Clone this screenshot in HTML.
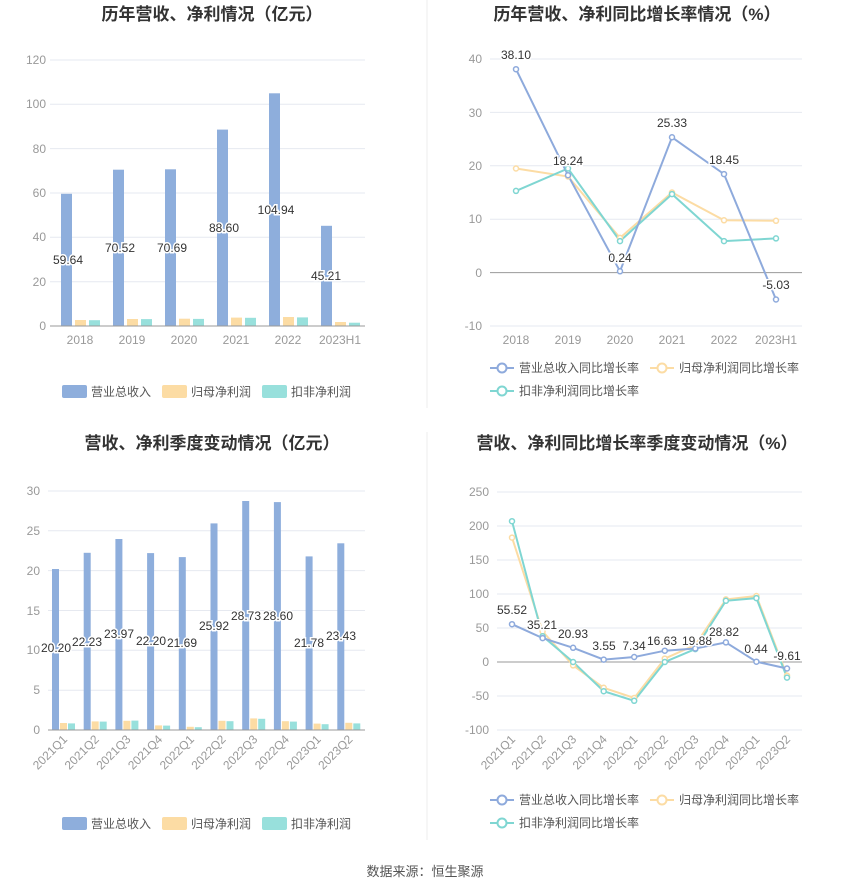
<!DOCTYPE html>
<html><head><meta charset="utf-8"><style>
body{margin:0;background:#fff;}
svg{display:block;font-family:"Liberation Sans","Noto Sans CJK SC",sans-serif;}
.t{font-size:17px;font-weight:bold;fill:#333;text-anchor:middle;}
.ax{font-size:12px;fill:#999;}
.lb{font-size:12px;fill:#333;text-anchor:middle;stroke:#fff;stroke-width:3px;paint-order:stroke;}
.g{stroke:#e6e9f0;stroke-width:1;}
.lg{font-size:12px;fill:#555;}
</style></head><body>
<svg width="850" height="891" viewBox="0 0 850 891">
<line x1="427" y1="0" x2="427" y2="408" stroke="#eee"/>
<line x1="427" y1="432" x2="427" y2="840" stroke="#eee"/>
<!-- Titles -->
<text class="t" x="212" y="20">历年营收、净利情况（亿元）</text>
<text class="t" x="637" y="20">历年营收、净利同比增长率情况（%）</text>
<text class="t" x="212" y="449">营收、净利季度变动情况（亿元）</text>
<text class="t" x="637" y="449">营收、净利同比增长率季度变动情况（%）</text>

<!-- Chart1 -->
<g>
<line class="g" x1="50" x2="365" y1="60" y2="60"/><line class="g" x1="50" x2="365" y1="104.3" y2="104.3"/><line class="g" x1="50" x2="365" y1="148.6" y2="148.6"/><line class="g" x1="50" x2="365" y1="193" y2="193"/><line class="g" x1="50" x2="365" y1="237.3" y2="237.3"/><line class="g" x1="50" x2="365" y1="281.7" y2="281.7"/>
<g class="ax" text-anchor="end"><text x="46" y="64">120</text><text x="46" y="108">100</text><text x="46" y="153">80</text><text x="46" y="197">60</text><text x="46" y="241">40</text><text x="46" y="286">20</text><text x="46" y="330">0</text></g>
<g fill="#8eaedc"><rect x="61" y="193.8" width="11" height="132.2"/><rect x="113" y="169.7" width="11" height="156.3"/><rect x="165" y="169.3" width="11" height="156.7"/><rect x="217" y="129.6" width="11" height="196.4"/><rect x="269" y="93.3" width="11" height="232.7"/><rect x="321" y="225.8" width="11" height="100.2"/></g>
<g fill="#fcdca4"><rect x="75" y="320" width="11" height="6"/><rect x="127" y="319" width="11" height="7"/><rect x="179" y="318.7" width="11" height="7.3"/><rect x="231" y="317.6" width="11" height="8.4"/><rect x="283" y="317" width="11" height="9"/><rect x="335" y="322" width="11" height="4"/></g>
<g fill="#98e0dc"><rect x="89" y="320.2" width="11" height="5.8"/><rect x="141" y="319.1" width="11" height="6.9"/><rect x="193" y="318.9" width="11" height="7.1"/><rect x="245" y="317.8" width="11" height="8.2"/><rect x="297" y="317.4" width="11" height="8.6"/><rect x="349" y="322.7" width="11" height="3.3"/></g>
<line x1="50" x2="365" y1="326" y2="326" stroke="#999"/>
<g class="lb"><text x="68" y="264">59.64</text><text x="120" y="252">70.52</text><text x="172" y="252">70.69</text><text x="224" y="232">88.60</text><text x="276" y="214">104.94</text><text x="326" y="280">45.21</text></g>
<g class="ax" text-anchor="middle"><text x="80" y="344">2018</text><text x="132" y="344">2019</text><text x="184" y="344">2020</text><text x="236" y="344">2021</text><text x="288" y="344">2022</text><text x="340" y="344">2023H1</text></g>
</g>
<!-- Legend left -->
<g class="lg"><rect x="62" y="385" width="25" height="13" rx="2" fill="#8eaedc"/><text x="91" y="396">营业总收入</text>
<rect x="162" y="385" width="25" height="13" rx="2" fill="#fcdca4"/><text x="191" y="396">归母净利润</text>
<rect x="262" y="385" width="25" height="13" rx="2" fill="#98e0dc"/><text x="291" y="396">扣非净利润</text></g>
<g class="lg"><rect x="62" y="817" width="25" height="13" rx="2" fill="#8eaedc"/><text x="91" y="828">营业总收入</text>
<rect x="162" y="817" width="25" height="13" rx="2" fill="#fcdca4"/><text x="191" y="828">归母净利润</text>
<rect x="262" y="817" width="25" height="13" rx="2" fill="#98e0dc"/><text x="291" y="828">扣非净利润</text></g>

<!-- Chart2 -->
<g>
<line class="g" x1="490" x2="802" y1="59" y2="59"/><line class="g" x1="490" x2="802" y1="112.4" y2="112.4"/><line class="g" x1="490" x2="802" y1="165.8" y2="165.8"/><line class="g" x1="490" x2="802" y1="219.2" y2="219.2"/><line class="g" x1="490" x2="802" y1="326" y2="326"/>
<line x1="490" x2="802" y1="272.6" y2="272.6" stroke="#999"/>
<g class="ax" text-anchor="end"><text x="482" y="63">40</text><text x="482" y="117">30</text><text x="482" y="170">20</text><text x="482" y="223">10</text><text x="482" y="277">0</text><text x="482" y="330">-10</text></g>
<g fill="none" stroke-width="2">
<polyline stroke="#fcdca4" points="516,168.5 568,176.5 620,237.9 672,192.5 724,220.3 776,220.8"/>
<polyline stroke="#7fd6d2" points="516,190.9 568,168.5 620,241.1 672,194.1 724,241.1 776,238.4"/>
<polyline stroke="#8eaadc" points="516,69.2 568,175.2 620,271.3 672,137.3 724,174.1 776,299.5"/>
</g>
<g fill="#fff" stroke-width="1.5">
<g stroke="#fcdca4"><circle cx="516" cy="168.5" r="2.5"/><circle cx="568" cy="176.5" r="2.5"/><circle cx="620" cy="237.9" r="2.5"/><circle cx="672" cy="192.5" r="2.5"/><circle cx="724" cy="220.3" r="2.5"/><circle cx="776" cy="220.8" r="2.5"/></g>
<g stroke="#7fd6d2"><circle cx="516" cy="190.9" r="2.5"/><circle cx="568" cy="168.5" r="2.5"/><circle cx="620" cy="241.1" r="2.5"/><circle cx="672" cy="194.1" r="2.5"/><circle cx="724" cy="241.1" r="2.5"/><circle cx="776" cy="238.4" r="2.5"/></g>
<g stroke="#8eaadc"><circle cx="516" cy="69.2" r="2.5"/><circle cx="568" cy="175.2" r="2.5"/><circle cx="620" cy="271.3" r="2.5"/><circle cx="672" cy="137.3" r="2.5"/><circle cx="724" cy="174.1" r="2.5"/><circle cx="776" cy="299.5" r="2.5"/></g>
</g>
<g class="lb"><text x="516" y="59">38.10</text><text x="568" y="165">18.24</text><text x="620" y="262">0.24</text><text x="672" y="127">25.33</text><text x="724" y="164">18.45</text><text x="776" y="289">-5.03</text></g>
<g class="ax" text-anchor="middle"><text x="516" y="344">2018</text><text x="568" y="344">2019</text><text x="620" y="344">2020</text><text x="672" y="344">2021</text><text x="724" y="344">2022</text><text x="776" y="344">2023H1</text></g>
</g>
<!-- Legend right -->
<g class="lg" fill="#fff" stroke-width="2">
<line x1="490" x2="514" y1="368" y2="368" stroke="#8eaadc"/><circle cx="502" cy="368" r="4.5" stroke="#8eaadc" fill="#fff"/><text x="519" y="372" fill="#555" stroke="none">营业总收入同比增长率</text>
<line x1="650" x2="674" y1="368" y2="368" stroke="#fcdca4"/><circle cx="662" cy="368" r="4.5" stroke="#fcdca4" fill="#fff"/><text x="679" y="372" fill="#555" stroke="none">归母净利润同比增长率</text>
<line x1="490" x2="514" y1="391" y2="391" stroke="#7fd6d2"/><circle cx="502" cy="391" r="4.5" stroke="#7fd6d2" fill="#fff"/><text x="519" y="395" fill="#555" stroke="none">扣非净利润同比增长率</text>
<line x1="490" x2="514" y1="800" y2="800" stroke="#8eaadc"/><circle cx="502" cy="800" r="4.5" stroke="#8eaadc" fill="#fff"/><text x="519" y="804" fill="#555" stroke="none">营业总收入同比增长率</text>
<line x1="650" x2="674" y1="800" y2="800" stroke="#fcdca4"/><circle cx="662" cy="800" r="4.5" stroke="#fcdca4" fill="#fff"/><text x="679" y="804" fill="#555" stroke="none">归母净利润同比增长率</text>
<line x1="490" x2="514" y1="823" y2="823" stroke="#7fd6d2"/><circle cx="502" cy="823" r="4.5" stroke="#7fd6d2" fill="#fff"/><text x="519" y="827" fill="#555" stroke="none">扣非净利润同比增长率</text>
</g>

<!-- Chart3 -->
<g>
<line class="g" x1="48" x2="365" y1="491" y2="491"/><line class="g" x1="48" x2="365" y1="530.8" y2="530.8"/><line class="g" x1="48" x2="365" y1="570.6" y2="570.6"/><line class="g" x1="48" x2="365" y1="610.5" y2="610.5"/><line class="g" x1="48" x2="365" y1="650.3" y2="650.3"/><line class="g" x1="48" x2="365" y1="690.2" y2="690.2"/>
<g class="ax" text-anchor="end"><text x="40" y="495">30</text><text x="40" y="535">25</text><text x="40" y="575">20</text><text x="40" y="615">15</text><text x="40" y="654">10</text><text x="40" y="694">5</text><text x="40" y="734">0</text></g>
<g fill="#8eaedc"><rect x="52" y="569" width="7" height="161"/><rect x="83.7" y="552.8" width="7" height="177.2"/><rect x="115.4" y="539" width="7" height="191"/><rect x="147.1" y="553.1" width="7" height="176.9"/><rect x="178.8" y="557.1" width="7" height="172.9"/><rect x="210.5" y="523.4" width="7" height="206.6"/><rect x="242.2" y="501" width="7" height="229"/><rect x="273.9" y="502.1" width="7" height="227.9"/><rect x="305.6" y="556.4" width="7" height="173.6"/><rect x="337.3" y="543.3" width="7" height="186.7"/></g>
<g fill="#fcdca4"><rect x="60" y="723" width="7" height="7"/><rect x="91.7" y="721.4" width="7" height="8.6"/><rect x="123.4" y="720.8" width="7" height="9.2"/><rect x="155.1" y="725.4" width="7" height="4.6"/><rect x="186.8" y="726.8" width="7" height="3.2"/><rect x="218.5" y="720.8" width="7" height="9.2"/><rect x="250.2" y="718.4" width="7" height="11.6"/><rect x="281.9" y="721.2" width="7" height="8.8"/><rect x="313.6" y="723.6" width="7" height="6.4"/><rect x="345.3" y="722.8" width="7" height="7.2"/></g>
<g fill="#98e0dc"><rect x="68" y="723.4" width="7" height="6.6"/><rect x="99.7" y="721.6" width="7" height="8.4"/><rect x="131.4" y="720.6" width="7" height="9.4"/><rect x="163.1" y="725.6" width="7" height="4.4"/><rect x="194.8" y="727.2" width="7" height="2.8"/><rect x="226.5" y="721.2" width="7" height="8.8"/><rect x="258.2" y="718.8" width="7" height="11.2"/><rect x="289.9" y="721.6" width="7" height="8.4"/><rect x="321.6" y="724.2" width="7" height="5.8"/><rect x="353.3" y="723.4" width="7" height="6.6"/></g>
<line x1="48" x2="365" y1="730" y2="730" stroke="#999"/>
<g class="lb"><text x="56" y="652">20.20</text><text x="87" y="646">22.23</text><text x="119" y="638">23.97</text><text x="151" y="645">22.20</text><text x="182" y="647">21.69</text><text x="214" y="630">25.92</text><text x="246" y="620">28.73</text><text x="278" y="620">28.60</text><text x="309" y="647">21.78</text><text x="341" y="640">23.43</text></g>
<g class="ax" text-anchor="end">
<text transform="translate(68,740) rotate(-45)">2021Q1</text><text transform="translate(99.7,740) rotate(-45)">2021Q2</text><text transform="translate(131.4,740) rotate(-45)">2021Q3</text><text transform="translate(163.1,740) rotate(-45)">2021Q4</text><text transform="translate(194.8,740) rotate(-45)">2022Q1</text><text transform="translate(226.5,740) rotate(-45)">2022Q2</text><text transform="translate(258.2,740) rotate(-45)">2022Q3</text><text transform="translate(289.9,740) rotate(-45)">2022Q4</text><text transform="translate(321.6,740) rotate(-45)">2023Q1</text><text transform="translate(353.3,740) rotate(-45)">2023Q2</text>
</g>
</g>

<!-- Chart4 -->
<g>
<line class="g" x1="497" x2="802" y1="492" y2="492"/><line class="g" x1="497" x2="802" y1="526" y2="526"/><line class="g" x1="497" x2="802" y1="560" y2="560"/><line class="g" x1="497" x2="802" y1="594" y2="594"/><line class="g" x1="497" x2="802" y1="628" y2="628"/><line class="g" x1="497" x2="802" y1="696" y2="696"/><line class="g" x1="497" x2="802" y1="730" y2="730"/>
<line x1="497" x2="802" y1="662" y2="662" stroke="#999"/>
<g class="ax" text-anchor="end"><text x="489" y="496">250</text><text x="489" y="530">200</text><text x="489" y="564">150</text><text x="489" y="598">100</text><text x="489" y="632">50</text><text x="489" y="666">0</text><text x="489" y="700">-50</text><text x="489" y="734">-100</text></g>
<g fill="none" stroke-width="2">
<polyline stroke="#fcdca4" points="512,537.6 542.6,631.4 573.1,665.4 603.7,687.8 634.2,698 664.8,658.6 695.3,645 725.9,599.4 756.4,596 787,675.6"/>
<polyline stroke="#7fd6d2" points="512,521.2 542.6,636.2 573.1,662 603.7,691.2 634.2,700.8 664.8,662 695.3,649.1 725.9,600.8 756.4,598.1 787,677.6"/>
<polyline stroke="#8eaadc" points="512,624.2 542.6,638.1 573.1,647.8 603.7,659.6 634.2,657 664.8,650.7 695.3,648.5 725.9,642.4 756.4,661.7 787,668.5"/>
</g>
<g fill="#fff" stroke-width="1.5">
<g stroke="#fcdca4"><circle cx="512" cy="537.6" r="2.5"/><circle cx="542.6" cy="631.4" r="2.5"/><circle cx="573.1" cy="665.4" r="2.5"/><circle cx="603.7" cy="687.8" r="2.5"/><circle cx="634.2" cy="698" r="2.5"/><circle cx="664.8" cy="658.6" r="2.5"/><circle cx="695.3" cy="645" r="2.5"/><circle cx="725.9" cy="599.4" r="2.5"/><circle cx="756.4" cy="596" r="2.5"/><circle cx="787" cy="675.6" r="2.5"/></g>
<g stroke="#7fd6d2"><circle cx="512" cy="521.2" r="2.5"/><circle cx="542.6" cy="636.2" r="2.5"/><circle cx="573.1" cy="662" r="2.5"/><circle cx="603.7" cy="691.2" r="2.5"/><circle cx="634.2" cy="700.8" r="2.5"/><circle cx="664.8" cy="662" r="2.5"/><circle cx="695.3" cy="649.1" r="2.5"/><circle cx="725.9" cy="600.8" r="2.5"/><circle cx="756.4" cy="598.1" r="2.5"/><circle cx="787" cy="677.6" r="2.5"/></g>
<g stroke="#8eaadc"><circle cx="512" cy="624.2" r="2.5"/><circle cx="542.6" cy="638.1" r="2.5"/><circle cx="573.1" cy="647.8" r="2.5"/><circle cx="603.7" cy="659.6" r="2.5"/><circle cx="634.2" cy="657" r="2.5"/><circle cx="664.8" cy="650.7" r="2.5"/><circle cx="695.3" cy="648.5" r="2.5"/><circle cx="725.9" cy="642.4" r="2.5"/><circle cx="756.4" cy="661.7" r="2.5"/><circle cx="787" cy="668.5" r="2.5"/></g>
</g>
<g class="lb"><text x="512" y="614">55.52</text><text x="542" y="629">35.21</text><text x="573" y="638">20.93</text><text x="604" y="650">3.55</text><text x="634" y="650">7.34</text><text x="662" y="645">16.63</text><text x="697" y="645">19.88</text><text x="724" y="636">28.82</text><text x="756" y="653">0.44</text><text x="787" y="660">-9.61</text></g>
<g class="ax" text-anchor="end">
<text transform="translate(516,740) rotate(-45)">2021Q1</text><text transform="translate(546.6,740) rotate(-45)">2021Q2</text><text transform="translate(577.1,740) rotate(-45)">2021Q3</text><text transform="translate(607.7,740) rotate(-45)">2021Q4</text><text transform="translate(638.2,740) rotate(-45)">2022Q1</text><text transform="translate(668.8,740) rotate(-45)">2022Q2</text><text transform="translate(699.3,740) rotate(-45)">2022Q3</text><text transform="translate(729.9,740) rotate(-45)">2022Q4</text><text transform="translate(760.4,740) rotate(-45)">2023Q1</text><text transform="translate(791,740) rotate(-45)">2023Q2</text>
</g>
</g>

<text x="425" y="876" text-anchor="middle" font-size="13" fill="#555">数据来源：恒生聚源</text>
</svg>
</body></html>
